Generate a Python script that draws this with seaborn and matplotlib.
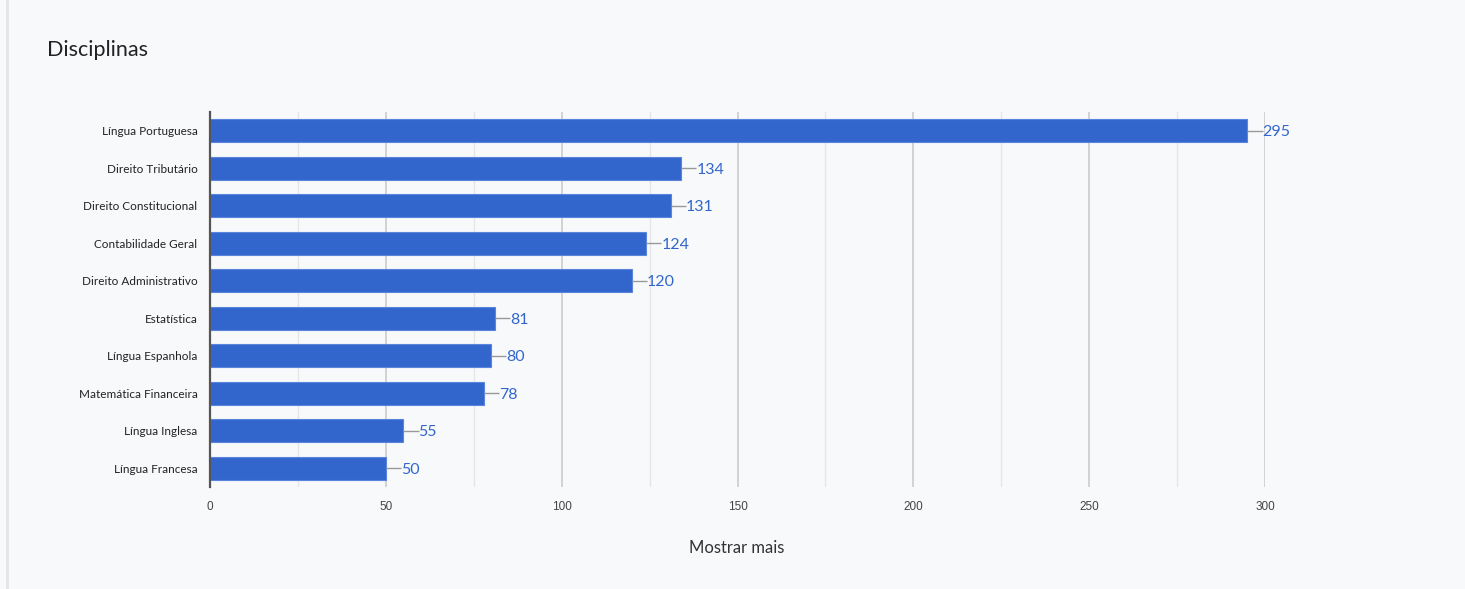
import pandas as pd
import matplotlib.pyplot as plt
import seaborn as sns
from matplotlib.ticker import MultipleLocator

disciplinas = ["Língua Portuguesa", "Direito Tributário", "Direito Constitucional",
               "Contabilidade Geral", "Direito Administrativo", "Estatística",
               "Língua Espanhola", "Matemática Financeira", "Língua Inglesa",
               "Língua Francesa"]
questoes = [295, 134, 131, 124, 120, 81, 80, 78, 55, 50]
x_ticks = [0, 50, 100, 150, 200, 250, 300]

df = pd.DataFrame({"Disciplina": disciplinas, "Qtd": questoes})

bg = "#f8f9fb"
bar_color = "#3366cc"

sns.set_theme(style="white")
plt.rcParams["font.family"] = ["Lato", "DejaVu Sans"]

fig = plt.figure(figsize=(14.65, 5.89), dpi=100, facecolor=bg)
ax = fig.add_axes([210 / 1465, 1 - 487 / 589, 1055 / 1465, 375 / 589])
ax.set_facecolor(bg)

sns.barplot(data=df, x="Qtd", y="Disciplina", color=bar_color, width=0.62,
            saturation=1, edgecolor="#5a85dd", linewidth=0.8, ax=ax, zorder=3)

ax.set_xlim(0, 300)
ax.set_ylim(len(disciplinas) - 0.5, -0.5)
ax.set_xticks(x_ticks)
ax.xaxis.set_minor_locator(MultipleLocator(25))
ax.grid(True, axis="x", which="major", color="#cccccc", linewidth=1.2, zorder=0)
ax.grid(True, axis="x", which="minor", color="#e6e6e6", linewidth=1.0, zorder=0)
ax.set_axisbelow(True)

for s in ["top", "right", "bottom"]:
    ax.spines[s].set_visible(False)
ax.spines["left"].set_color("#555555")
ax.spines["left"].set_linewidth(1.6)
ax.spines["left"].set_zorder(5)

ax.tick_params(axis="both", length=0)
ax.tick_params(axis="y", pad=9, labelsize=8.5, labelcolor="#222222")
ax.tick_params(axis="x", pad=10, labelsize=8.5, labelcolor="#444444")
for lbl in ax.get_xticklabels():
    lbl.set_family(["Liberation Sans", "DejaVu Sans"])
ax.set_xlabel("")
ax.set_ylabel("")

# value labels with small connector lines
for i, v in enumerate(questoes):
    ax.plot([v, v + 4.3], [i, i], color="#999999", linewidth=1, zorder=4,
            solid_capstyle="butt")
    ax.text(v + 4.3, i, str(v), va="center_baseline", ha="left", fontsize=11.5,
            color=bar_color, zorder=4)

fig.text(47 / 1465, 1 - 50 / 589, "Disciplinas", fontsize=15.5, color="#222222",
         va="center", ha="left")
fig.text(737 / 1465, 1 - 548 / 589, "Mostrar mais", fontsize=12, color="#333333",
         va="center", ha="center")

# card border on the left
fig.add_artist(plt.Line2D([7 / 1465, 7 / 1465], [0, 1], color="#e3e5ea",
                          linewidth=2, transform=fig.transFigure))

fig.savefig("out.png", dpi=100, facecolor=bg)
